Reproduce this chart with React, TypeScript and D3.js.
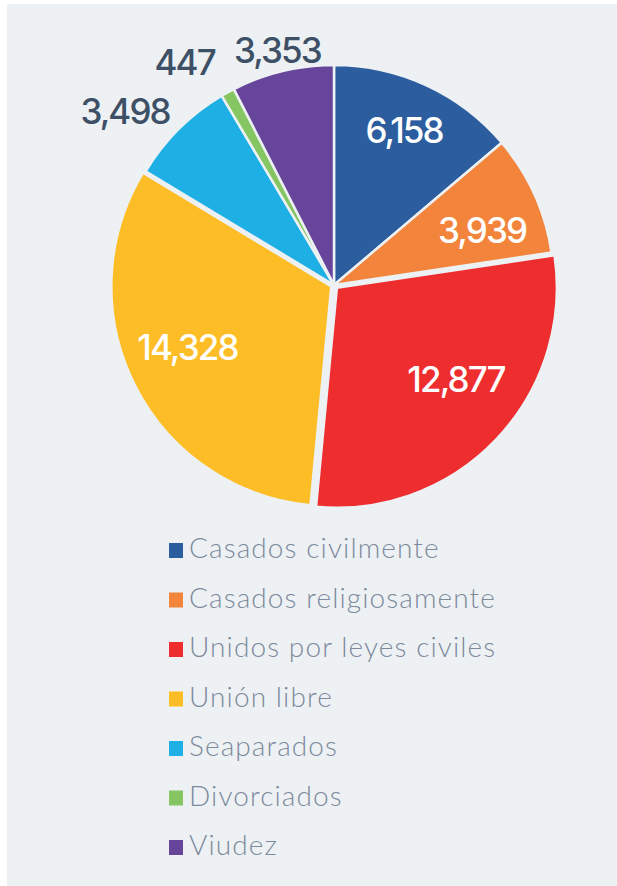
import React, { useEffect, useRef } from 'react';
import * as d3 from 'd3';

const categories = [
  'Casados civilmente',
  'Casados religiosamente',
  'Unidos por leyes civiles',
  'Unión libre',
  'Seaparados',
  'Divorciados',
  'Viudez',
];
const values = [6158, 3939, 12877, 14328, 3498, 447, 3353];
const colors = ['#2c5d9e', '#f2843c', '#ee2d2f', '#fdbd26', '#1eb0e4', '#86c662', '#66459a'];

const W = 617;
const H = 886;
const BG = '#edf1f4';

export default function App() {
  const ref = useRef<SVGSVGElement>(null);

  useEffect(() => {
    const svg = d3.select(ref.current);
    svg.selectAll('*').remove();

    svg.append('rect')
      .attr('x', 7).attr('y', 4)
      .attr('width', W - 7).attr('height', H - 4)
      .attr('fill', BG);

    const cx = 334, cy = 285, r = 220;
    const data = categories.map((c, i) => ({ name: c, value: values[i], color: colors[i] }));

    const pie = d3.pie<any>().value(d => d.value).sort(null);
    const arcs = pie(data);
    const arc = d3.arc<any>().innerRadius(0).outerRadius(r);

    const g = svg.append('g').attr('transform', `translate(${cx},${cy})`);

    // red and yellow slices are pulled out a little
    const explode = (d: any) => (d.index === 2 ? 4 : d.index === 3 ? 3 : 0);
    const shift = (d: any) => {
      const a = (d.startAngle + d.endAngle) / 2;
      const o = explode(d);
      return [Math.sin(a) * o, -Math.cos(a) * o];
    };

    g.selectAll('path.slice')
      .data(arcs)
      .enter()
      .append('path')
      .attr('class', 'slice')
      .attr('d', arc)
      .attr('fill', d => d.data.color)
      .attr('stroke', BG)
      .attr('stroke-width', 2.5)
      .attr('stroke-linejoin', 'round')
      .attr('transform', d => `translate(${shift(d)[0]},${shift(d)[1]})`);

    // label placement per slice: radius and angle nudge (degrees)
    const labelRadius = [170, 158, 150, 156, 272, 268, 242];
    const labelNudge = [-0.5, 4, -6, 4, -5.4, -5, 0];

    g.selectAll('text.lbl')
      .data(arcs)
      .enter()
      .append('text')
      .attr('class', 'lbl')
      .attr('transform', d => {
        const rr = labelRadius[d.index];
        const da = (labelNudge[d.index] * Math.PI) / 180;
        const p = d3.arc<any>().innerRadius(rr).outerRadius(rr)
          .centroid({ ...d, startAngle: d.startAngle + da, endAngle: d.endAngle + da });
        const s = shift(d);
        return `translate(${p[0] + s[0]},${p[1] + s[1]})`;
      })
      .attr('text-anchor', 'middle')
      .attr('dominant-baseline', 'central')
      .attr('font-family', 'Inter, "Noto Sans", sans-serif')
      .attr('font-weight', 500)
      .attr('font-size', 35)
      .attr('letter-spacing', -1.9)
      .attr('fill', d => (d.index >= 4 ? '#3d5066' : '#ffffff'))
      .text(d => d3.format(',')(d.data.value));

    // legend
    const legend = svg.append('g').attr('transform', 'translate(169,558)');
    const row = legend.selectAll('g.item')
      .data(data)
      .enter()
      .append('g')
      .attr('class', 'item')
      .attr('transform', (d, i) => `translate(0,${i * 49.5})`);

    row.append('rect')
      .attr('x', 0).attr('y', -15)
      .attr('width', 14).attr('height', 15)
      .attr('fill', d => d.color);

    row.append('text')
      .attr('x', 20).attr('y', 0)
      .attr('font-family', 'Lato, "Open Sans", sans-serif')
      .attr('font-weight', 300)
      .attr('font-size', 28)
      .attr('letter-spacing', 1.1)
      .attr('fill', '#7d8a9c')
      .text(d => d.name);
  }, []);

  return (
    <svg
      ref={ref}
      width={W}
      height={H}
      style={{ position: 'absolute', left: 0, top: 0, background: '#ffffff' }}
    />
  );
}
